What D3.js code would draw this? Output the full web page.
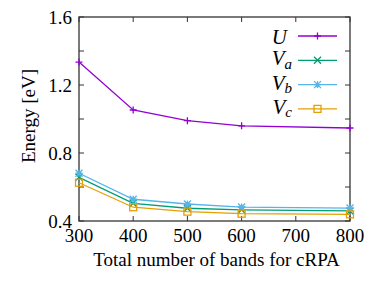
<!DOCTYPE html>
<html>
<head>
<meta charset="utf-8">
<script src="https://cdn.jsdelivr.net/npm/d3@7"></script>
<style>
  body { margin: 0; background: #fff; }
</style>
</head>
<body>
<div id="chart"></div>
<script>
var bands = [300, 400, 500, 600, 800];
var U  = [1.335, 1.053, 0.99, 0.96, 0.947];
var Va = [0.657, 0.504, 0.475, 0.466, 0.459];
var Vb = [0.681, 0.528, 0.500, 0.482, 0.476];
var Vc = [0.625, 0.481, 0.455, 0.443, 0.439];
var xTicks = [300, 400, 500, 600, 700, 800];
var yTicks = [0.4, 0.6, 0.8, 1.0, 1.2, 1.4, 1.6];
var yLabels = [0.4, 0.8, 1.2, 1.6];

var series = [
    {name: 'U', sub: '', values: U, color: '#9400d3', mark: 'plus'},
    {name: 'V', sub: 'a', values: Va, color: '#009e73', mark: 'cross'},
    {name: 'V', sub: 'b', values: Vb, color: '#56b4e9', mark: 'star'},
    {name: 'V', sub: 'c', values: Vc, color: '#e69f00', mark: 'square'}
];

var serif = 'Liberation Serif';

var width = 381, height = 285,
    margin = {top: 17, right: 31, bottom: 64, left: 79},
    svg = d3.select('#chart')
        .append('svg')
        .attr('width', width)
        .attr('height', height)
        .attr('font-family', serif),
    g = svg.append('g')
        .attr('transform', 'translate(' + margin.left + ',' + margin.top + ')');

var w = width - margin.left - margin.right,
    h = height - margin.top - margin.bottom;

var x = d3.scaleLinear().domain([300, 800]).range([0, w]);
var y = d3.scaleLinear().domain([0.4, 1.6]).range([h, 0]);

var axisColor = '#333';

// ticks on all four sides, pointing inward
xTicks.forEach(function (t) {
    g.append('line').attr('x1', x(t)).attr('x2', x(t)).attr('y1', h).attr('y2', h - 5)
        .attr('stroke', axisColor);
    g.append('line').attr('x1', x(t)).attr('x2', x(t)).attr('y1', 0).attr('y2', 5)
        .attr('stroke', axisColor);
    g.append('text')
        .attr('x', x(t)).attr('y', h + 20.5)
        .attr('text-anchor', 'middle')
        .attr('font-family', serif)
        .attr('font-size', 19)
        .text(t);
});
yTicks.forEach(function (t) {
    g.append('line').attr('x1', 0).attr('x2', 5).attr('y1', y(t)).attr('y2', y(t))
        .attr('stroke', axisColor);
    g.append('line').attr('x1', w).attr('x2', w - 5).attr('y1', y(t)).attr('y2', y(t))
        .attr('stroke', axisColor);
});
yLabels.forEach(function (t) {
    g.append('text')
        .attr('x', -7).attr('y', y(t) + 6.5)
        .attr('text-anchor', 'end')
        .attr('font-family', serif)
        .attr('font-size', 19)
        .text(t.toFixed(1));
});

g.append('rect')
    .attr('width', w).attr('height', h)
    .attr('fill', 'none')
    .attr('stroke', axisColor)
    .attr('stroke-width', 1.3);

function marker(sel, type, color) {
    var s = 3.5;
    if (type === 'plus') {
        sel.append('path').attr('d', 'M' + -s + ',0H' + s + 'M0,' + -s + 'V' + s);
    } else if (type === 'cross') {
        sel.append('path').attr('d', 'M' + -s + ',' + -s + 'L' + s + ',' + s + 'M' + -s + ',' + s + 'L' + s + ',' + -s);
    } else if (type === 'star') {
        sel.append('path').attr('d', 'M' + -s + ',0H' + s + 'M0,' + -s + 'V' + s +
            'M' + -s + ',' + -s + 'L' + s + ',' + s + 'M' + -s + ',' + s + 'L' + s + ',' + -s);
    } else {
        sel.append('rect').attr('x', -s).attr('y', -s).attr('width', 2 * s).attr('height', 2 * s);
    }
    sel.selectAll('path, rect').attr('stroke', color).attr('stroke-width', 1.3).attr('fill', 'none');
}

var line = d3.line()
    .x(function (d, i) { return x(bands[i]); })
    .y(function (d) { return y(d); });

series.forEach(function (s) {
    g.append('path')
        .attr('d', line(s.values))
        .attr('fill', 'none')
        .attr('stroke', s.color)
        .attr('stroke-width', 1.3);
    s.values.forEach(function (v, i) {
        var m = g.append('g').attr('transform', 'translate(' + x(bands[i]) + ',' + y(v) + ')');
        marker(m, s.mark, s.color);
    });
});

// legend
var legend = g.append('g').attr('transform', 'translate(' + (w - 52) + ',' + 19 + ')');
series.forEach(function (s, i) {
    var row = legend.append('g').attr('transform', 'translate(0,' + (i * 24.3) + ')');
    var t = row.append('text')
        .attr('x', s.sub ? -6 : -11).attr('y', s.sub ? 5 : 7.5)
        .attr('text-anchor', 'end')
        .attr('font-family', serif)
        .attr('font-style', 'italic')
        .attr('font-size', 21);
    t.append('tspan').text(s.name);
    if (s.sub) {
        t.append('tspan').attr('dy', 3.5).attr('font-size', 15).text(s.sub);
    }
    row.append('line')
        .attr('x1', 0).attr('x2', 39).attr('y1', 0).attr('y2', 0)
        .attr('stroke', s.color).attr('stroke-width', 1.3);
    var m = row.append('g').attr('transform', 'translate(19.5,0)');
    marker(m, s.mark, s.color);
});

// axis titles
svg.append('text')
    .attr('transform', 'translate(' + 35 + ',' + 116 + ') rotate(-90)')
    .attr('text-anchor', 'middle')
    .attr('font-family', serif)
    .attr('font-size', 19)
    .text('Energy [eV]');

svg.append('text')
    .attr('x', margin.left + w / 2 + 2).attr('y', margin.top + h + 45)
    .attr('text-anchor', 'middle')
    .attr('font-family', serif)
    .attr('font-size', 19)
    .text('Total number of bands for cRPA');
</script>
</body>
</html>
